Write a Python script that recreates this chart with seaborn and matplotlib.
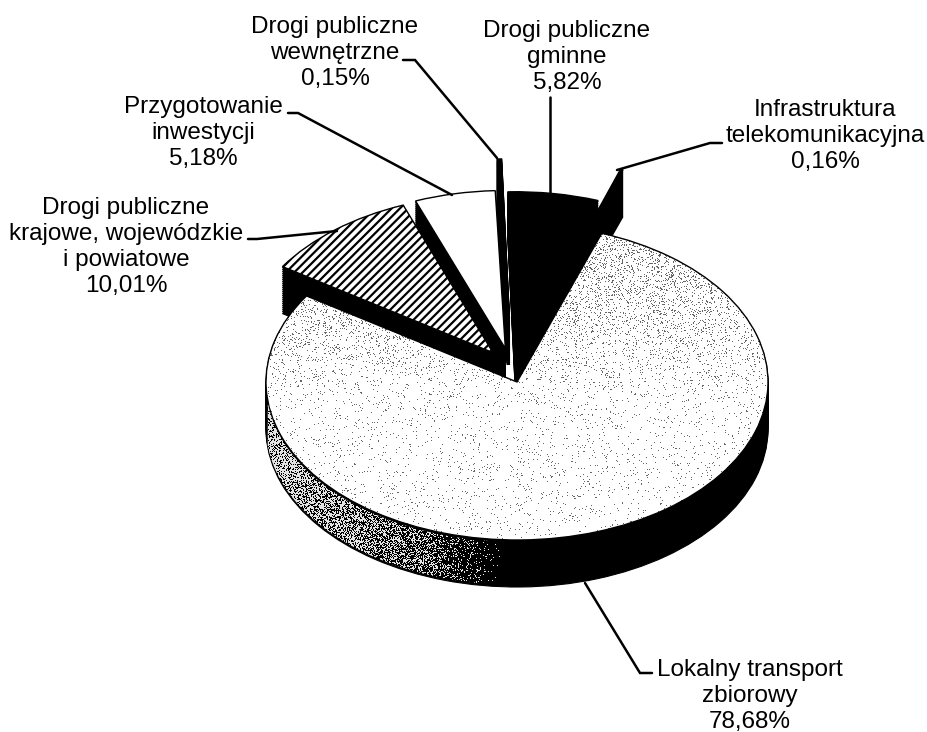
import numpy as np
import seaborn as sns
import matplotlib.pyplot as plt

# clockwise order, starting at the left edge of the big slice
names = ['Drogi publiczne\nkrajowe, wojewódzkie\ni powiatowe',
         'Przygotowanie\ninwestycji',
         'Drogi publiczne\nwewnętrzne',
         'Drogi publiczne\ngminne',
         'Infrastruktura\ntelekomunikacyjna',
         'Lokalny transport\nzbiorowy']
shares = [10.01, 5.18, 0.15, 5.82, 0.16, 78.68]
explode = [0.19, 0.21, 0.40, 0.20, 0.42, 0.0]
face_colors = ['white', 'white', 'black', 'black', 'black', 'white']
# paint order: the big slice sits in front of the rest
paint_rank = [4, 1, 2, 3, 2, 5]
# the original explodes in 3D, so slices drift a bit off the radial direction (px)
nudge = [(6, -6), (-1, -1), (-5, -1), (-9, -1), (-14, -1), (0, 0)]

W, H = 928, 732
CX, CY = 517, 382
RX, RY = 251, 158
DEPTH = 47

sns.set_theme(style="white")
plt.rcParams['font.family'] = ['Liberation Sans', 'DejaVu Sans']
plt.rcParams['hatch.linewidth'] = 1.6

fig = plt.figure(figsize=(W / 100, H / 100), dpi=100, facecolor='white')
ax = fig.add_axes([0, 0, 1, 1])
xlim = (-CX / RX, (W - CX) / RX)
ylim = (-(H - CY) / RY, CY / RY)


def draw_pie(dy, colors, z_add, lw):
    wedges, _ = ax.pie(shares, explode=explode, colors=colors, startangle=147,
                       counterclock=False, center=(0, dy), radius=1,
                       wedgeprops=dict(edgecolor='black', linewidth=lw))
    for w, rank, (nx, ny) in zip(wedges, paint_rank, nudge):
        w.set_zorder(rank * 100 + z_add)
        cx, cy = w.center
        w.set_center((cx + nx / RX, cy - ny / RY))
    # the thin slice reads as a heavier stroke in the original
    wedges[2].set_linewidth(2.4)
    return wedges


# side walls: stack of black pies going down
for i, step in enumerate(np.arange(DEPTH, 0, -2)):
    draw_pie(-step / RY, ['black'] * len(shares), i, 0.8)
top = draw_pie(0, face_colors, 90, 1.0)
top[0].set_hatch('////')

# dither texture shared by the big slice and its side wall
xx, yy = np.meshgrid(np.arange(W), np.arange(H))
noise = np.sin(xx * 12.9898 + yy * 78.233) * 43758.5453
noise = noise - np.floor(noise)
extent = (xlim[0], xlim[1], ylim[0], ylim[1])

density = 0.035 + 0.17 * np.clip((400 - yy) / 170, 0, 1)
dots = np.zeros((H, W, 4))
dots[..., 3] = (noise < density) * 0.6
img = ax.imshow(dots, extent=extent, aspect='auto', origin='upper',
                interpolation='nearest', zorder=595)
img.set_clip_path(top[5])

# lit part of the big slice's side wall, fading to black
arc_x = np.linspace(-0.993, -0.06, 200)
arc_y = -np.sqrt(1 - arc_x ** 2)
band = ax.fill_between(arc_x, arc_y - (DEPTH - 2) / RY, arc_y - 2 / RY,
                       color='black', linewidth=0, zorder=596)
fade = np.interp(xx, [267, 330, 420, 500], [0.3, 0.45, 0.62, 1.0])
specks = np.ones((H, W, 4))
specks[..., 3] = (noise > fade) * 0.9
img2 = ax.imshow(specks, extent=extent, aspect='auto', origin='upper',
                 interpolation='nearest', zorder=597)
img2.set_clip_path(band.get_paths()[0], ax.transData)

ax.set_aspect('auto')
ax.set_xlim(*xlim)
ax.set_ylim(*ylim)
ax.axis('off')

# labels and leader lines live on a pixel-sized overlay
over = fig.add_axes([0, 0, 1, 1], zorder=5)
over.set_xlim(0, W)
over.set_ylim(H, 0)
over.axis('off')
over.patch.set_alpha(0)

label_xy = [(126, 247), (203, 133), (335, 53), (567, 57), (825, 136), (750, 696)]
leaders = [[(248, 239), (257, 239), (337, 231)],
           [(288, 113), (298, 113), (452, 195)],
           [(403, 60), (415, 60), (497, 158)],
           [(550, 97), (550, 193)],
           [(722, 143), (710, 143), (617, 170)],
           [(652, 673), (640, 673), (585, 583)]]

for name, val, (tx, ty), pts in zip(names, shares, label_xy, leaders):
    txt = name + '\n' + f'{val:.2f}'.replace('.', ',') + '%'
    over.text(tx, ty, txt, ha='center', va='center', fontsize=17.5,
              color='black', linespacing=1.22)
    over.plot(*zip(*pts), color='black', lw=1.8, solid_joinstyle='miter')

fig.savefig('out.png', dpi=100)
